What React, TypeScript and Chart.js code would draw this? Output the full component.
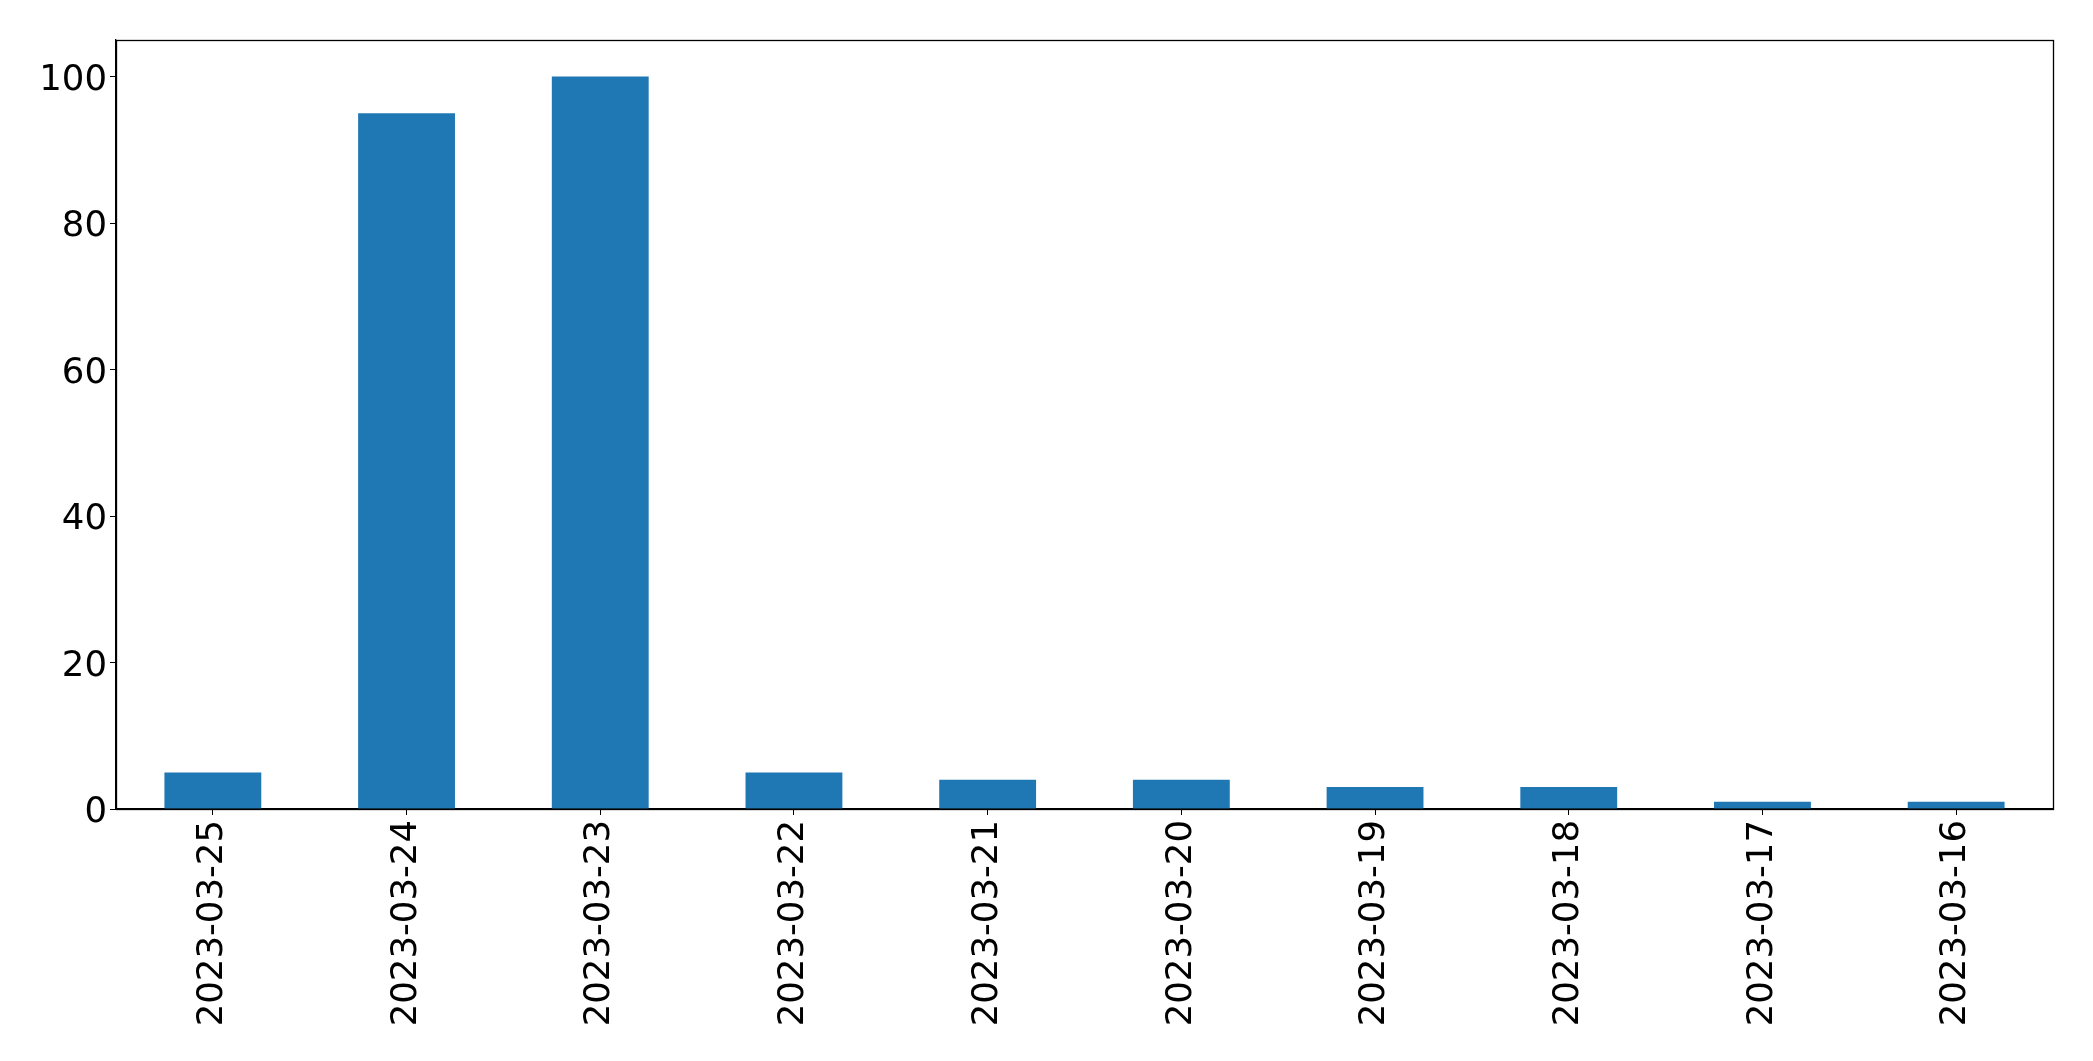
import React, { useEffect, useRef } from "react";
import { Chart, registerables } from "chart.js";

Chart.register(...registerables);

const categories = [
  "2023-03-25",
  "2023-03-24",
  "2023-03-23",
  "2023-03-22",
  "2023-03-21",
  "2023-03-20",
  "2023-03-19",
  "2023-03-18",
  "2023-03-17",
  "2023-03-16",
];
const counts = [5, 95, 100, 5, 4, 4, 3, 3, 1, 1];
const yTicks = [0, 20, 40, 60, 80, 100];

const W = 2093;
const H = 1061;
const LEFT = 116;
const TOP = 40;
const RIGHT = 2053;
const BOTTOM = 809;

const framePlugin = {
  id: "frame",
  afterDraw(chart: any) {
    const { ctx, chartArea } = chart;
    ctx.save();
    ctx.strokeStyle = "#000";
    ctx.lineWidth = 1.3;
    ctx.strokeRect(
      Math.round(chartArea.left) + 0.5,
      Math.round(chartArea.top) + 0.5,
      Math.round(chartArea.right - chartArea.left),
      Math.round(chartArea.bottom - chartArea.top)
    );
    ctx.restore();
  },
};

export default function App() {
  const ref = useRef<HTMLCanvasElement | null>(null);
  useEffect(() => {
    document.body.style.margin = "0";
    const font = { family: "'DejaVu Sans', sans-serif", size: 35.5 };
    const yFont = { family: "'DejaVu Sans', sans-serif", size: 35.5, lineHeight: "8px" };
    const chart = new Chart(ref.current as HTMLCanvasElement, {
      type: "bar",
      data: {
        labels: categories,
        datasets: [
          {
            data: counts,
            backgroundColor: "#1f77b4",
            borderWidth: 0,
            barPercentage: 0.5,
            categoryPercentage: 1,
          },
        ],
      },
      options: {
        animation: false,
        responsive: false,
        maintainAspectRatio: false,
        devicePixelRatio: 1,
        layout: { padding: { left: 0, top: TOP, right: W - RIGHT, bottom: 0 } },
        plugins: { legend: { display: false }, tooltip: { enabled: false } },
        scales: {
          x: {
            type: "category",
            offset: true,
            grid: {
              display: true,
              drawOnChartArea: false,
              drawTicks: true,
              tickLength: 6,
              color: "#000",
              tickColor: "#000",
              offset: false,
            },
            border: { display: true, color: "#000", width: 1.3 },
            ticks: {
              color: "#000",
              font,
              minRotation: 90,
              maxRotation: 90,
              autoSkip: false,
              padding: 5,
            },
            afterFit(scale: any) {
              scale.height = H - BOTTOM;
            },
          },
          y: {
            type: "linear",
            min: 0,
            max: 105,
            grid: {
              display: true,
              drawOnChartArea: false,
              drawTicks: true,
              tickLength: 6,
              color: "#000",
              tickColor: "#000",
            },
            border: { display: true, color: "#000", width: 1.3 },
            afterBuildTicks(scale: any) {
              scale.ticks = yTicks.map((v) => ({ value: v }));
            },
            ticks: {
              color: "#000",
              font: yFont,
              padding: 3,
              includeBounds: false,
              callback: (v: any) => ["", String(v)],
            },
            afterFit(scale: any) {
              scale.width = LEFT;
            },
          },
        },
      },
      plugins: [framePlugin],
    });
    return () => chart.destroy();
  }, []);
  return (
    <div style={{ position: "fixed", left: 0, top: 0, width: W, height: H, background: "#fff" }}>
      <canvas ref={ref} width={W} height={H} style={{ width: W, height: H, display: "block" }} />
    </div>
  );
}
